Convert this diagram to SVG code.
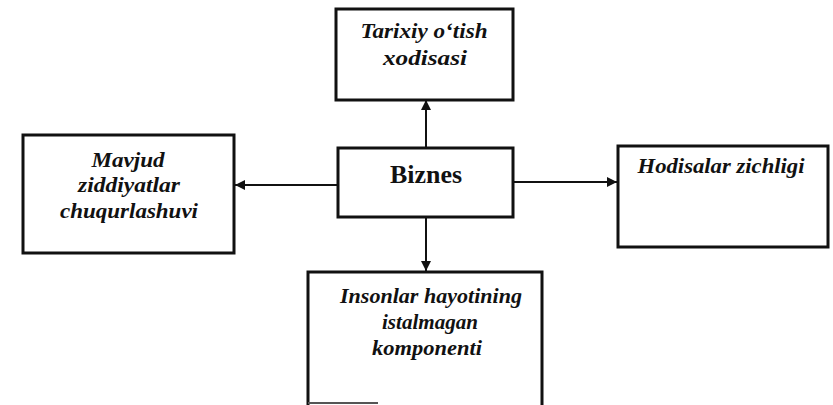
<svg xmlns="http://www.w3.org/2000/svg" width="833" height="405" viewBox="0 0 833 405">
  <style>
    .box { fill: #fff; stroke: #111; stroke-width: 3; }
    .lbl { font-family: "Liberation Serif", "Times New Roman", serif; font-weight: bold; font-style: italic; font-size: 21px; fill: #111; text-anchor: middle; }
    .main { font-family: "Liberation Serif", "Times New Roman", serif; font-weight: bold; font-size: 26px; fill: #111; text-anchor: middle; }
    .conn { stroke: #111; stroke-width: 2; fill: none; marker-end: url(#arr); }
  </style>
  <defs>
    <marker id="arr" viewBox="0 0 10 10" refX="10" refY="5" markerWidth="12" markerHeight="10" markerUnits="userSpaceOnUse" orient="auto">
      <path d="M0,0 L10,5 L0,10 z" fill="#111"/>
    </marker>
  </defs>
  <rect width="833" height="405" fill="#fff"/>
  <g id="connectors">
    <line class="conn" x1="426" y1="148" x2="426" y2="100"/>
    <line class="conn" x1="338" y1="185" x2="235" y2="185"/>
    <line class="conn" x1="513" y1="182" x2="617" y2="182"/>
    <line class="conn" x1="426" y1="217" x2="426" y2="271"/>
  </g>
  <g id="node-top">
    <rect class="box" x="336" y="9" width="177" height="91"/>
    <text class="lbl" x="424" y="38" textLength="127" lengthAdjust="spacingAndGlyphs">Tarixiy o‘tish</text>
    <text class="lbl" x="425" y="65" textLength="84" lengthAdjust="spacingAndGlyphs">xodisasi</text>
  </g>
  <g id="node-biznes">
    <rect class="box" x="338" y="148" width="175" height="69"/>
    <text class="main" x="426" y="183" textLength="72" lengthAdjust="spacingAndGlyphs">Biznes</text>
  </g>
  <g id="node-left">
    <rect class="box" x="23" y="135" width="211" height="118"/>
    <text class="lbl" x="128" y="167" textLength="73" lengthAdjust="spacingAndGlyphs">Mavjud</text>
    <text class="lbl" x="129" y="192" textLength="102" lengthAdjust="spacingAndGlyphs">ziddiyatlar</text>
    <text class="lbl" x="129" y="218" textLength="138" lengthAdjust="spacingAndGlyphs">chuqurlashuvi</text>
  </g>
  <g id="node-right">
    <rect class="box" x="618" y="146" width="210" height="101"/>
    <text class="lbl" x="721" y="173" textLength="167" lengthAdjust="spacingAndGlyphs">Hodisalar zichligi</text>
  </g>
  <g id="node-bottom">
    <path d="M308,405 L308,272 L542,272 L542,405" fill="#fff" stroke="#111" stroke-width="3"/>
    <line x1="308" y1="403" x2="378" y2="403" stroke="#555" stroke-width="2"/>
    <text class="lbl" x="431" y="303" textLength="182" lengthAdjust="spacingAndGlyphs">Insonlar hayotining</text>
    <text class="lbl" x="430" y="329" textLength="96" lengthAdjust="spacingAndGlyphs">istalmagan</text>
    <text class="lbl" x="427" y="355" textLength="110" lengthAdjust="spacingAndGlyphs">komponenti</text>
  </g>
</svg>
